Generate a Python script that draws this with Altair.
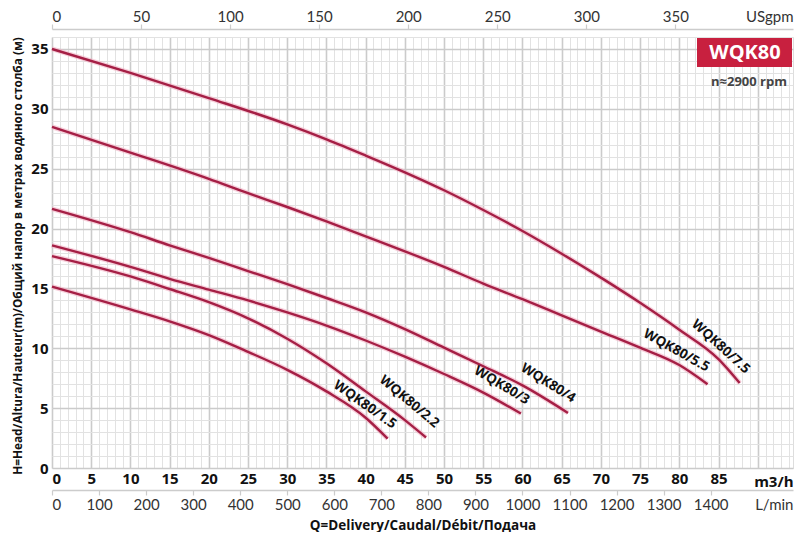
import altair as alt
import pandas as pd

# ---------------- data (m3/h, m) ----------------
models = ["WQK80/1.5", "WQK80/2.2", "WQK80/3", "WQK80/4", "WQK80/5.5", "WQK80/7.5"]
q_15 = [0, 10, 15, 20, 25, 30, 35, 40, 42.8]
h_15 = [15.15, 13.25, 12.25, 11.1, 9.7, 8.2, 6.4, 4.2, 2.45]
q_22 = [0, 10, 15, 20, 25, 30, 35, 40, 45, 47.7]
h_22 = [17.7, 16.0, 14.95, 13.85, 12.5, 10.8, 8.75, 6.4, 4.0, 2.55]
q_3 = [0, 10, 15, 20, 25, 30, 35, 40, 45, 50, 55, 59.8]
h_3 = [18.6, 16.8, 15.8, 14.9, 14.0, 13.0, 11.9, 10.65, 9.3, 7.85, 6.3, 4.55]
q_4 = [0, 10, 15, 20, 25, 30, 35, 40, 45, 50, 55, 60, 65.8]
h_4 = [21.65, 19.7, 18.6, 17.55, 16.45, 15.35, 14.2, 13.0, 11.6, 10.05, 8.5, 6.9, 4.6]
q_55 = [0, 10, 20, 25, 30, 35, 40, 45, 50, 55, 60, 65, 70, 75, 80, 83.6]
h_55 = [28.5, 26.35, 24.15, 22.95, 21.8, 20.6, 19.35, 18.1, 16.8, 15.4, 14.1, 12.75, 11.4, 10.05, 8.6, 7.0]
q_75 = [0, 10, 20, 30, 35, 40, 45, 50, 55, 60, 65, 70, 75, 80, 85, 87.7]
h_75 = [35.0, 33.0, 30.9, 28.7, 27.45, 26.1, 24.7, 23.2, 21.55, 19.8, 17.9, 15.9, 13.8, 11.55, 9.1, 7.1]

# curve label anchors (m3/h, m) and text angle
lab_q = [39.4, 45.0, 56.9, 62.8, 79.2, 84.7]
lab_h = [4.8, 5.1, 6.4, 6.6, 9.3, 9.7]
lab_ang = [35, 40, 31, 32, 29, 42]

# secondary axis ticks
usgpm_ticks = [0, 50, 100, 150, 200, 250, 300, 350]
lmin_ticks = [0, 100, 200, 300, 400, 500, 600, 700, 800, 900, 1000, 1100, 1200, 1300, 1400]
m3h_ticks = [0, 5, 10, 15, 20, 25, 30, 35, 40, 45, 50, 55, 60, 65, 70, 75, 80, 85, 90]
head_ticks = [0, 5, 10, 15, 20, 25, 30, 35]

# ---------------- frames ----------------
series = [(q_15, h_15), (q_22, h_22), (q_3, h_3), (q_4, h_4), (q_55, h_55), (q_75, h_75)]
rows = []
for m, (qs, hs) in zip(models, series):
    for q, h in zip(qs, hs):
        rows.append({"model": m, "q": q, "h": h})
df = pd.DataFrame(rows)
labels_df = pd.DataFrame({"model": models, "q": lab_q, "h": lab_h, "ang": lab_ang})
us_df = pd.DataFrame({"v": usgpm_ticks})
lm_df = pd.DataFrame({"v": lmin_ticks})
one = pd.DataFrame({"a": [1]})

W, H = 741, 431
XMAX = 94.5
BOLD = "Open Sans"
REG = "Lato"
CURVE = "#a51f45"

xs = alt.Scale(domain=[0, XMAX], nice=False, zero=False)
ys = alt.Scale(domain=[0, 36], nice=False, zero=False)

# minor grid (every 1 unit) + bottom title
minor = alt.Chart(df).mark_line(opacity=0).encode(
    x=alt.X("q:Q", scale=xs, axis=alt.Axis(
        orient="bottom", values=list(range(0, 95)), grid=True, gridColor="#e2e2e2",
        gridWidth=1, labels=False, ticks=False, domain=False,
        title="Q=Delivery/Caudal/Débit/Подача", titleFont=BOLD, titleFontSize=13.5,
        titleFontWeight="bold", titleColor="#111", titleX=W / 2, titleY=57,
        titleAlign="center", titleBaseline="middle")),
    y=alt.Y("h:Q", scale=ys, axis=alt.Axis(
        orient="left", values=list(range(0, 37)), grid=True, gridColor="#e2e2e2",
        gridWidth=1, labels=False, ticks=False, domain=False, title=None)),
    detail="model:N",
)

# major grid + m3/h axis + head axis
major = alt.Chart(df).mark_line(opacity=0).encode(
    x=alt.X("q:Q", scale=xs, axis=alt.Axis(
        orient="bottom", values=m3h_ticks, grid=True, gridColor="#cbcbcb", gridWidth=1.6,
        labelExpr="datum.value > 87 ? '' : datum.label",
        labelFont=BOLD, labelFontSize=15, labelFontWeight="bold", labelColor="#111",
        labelPadding=3, ticks=False, domain=False,
        title="m3/h", titleFont=BOLD, titleFontSize=15, titleFontWeight="bold",
        titleColor="#111", titleX=W, titleY=13, titleAlign="right",
        titleBaseline="middle")),
    y=alt.Y("h:Q", scale=ys, axis=alt.Axis(
        orient="left", values=head_ticks, grid=True, gridColor="#cbcbcb", gridWidth=1.6,
        labelFont=BOLD, labelFontSize=15, labelFontWeight="bold", labelColor="#111",
        labelPadding=4, ticks=False, domain=False,
        title="H=Head/Altura/Hauteur(m)/Общий напор в метрах водяного столба (м)",
        titleFont=BOLD, titleFontSize=11.8, titleFontWeight="bold", titleColor="#111",
        titleX=-35, titleY=H / 2 + 3, titleAlign="center", titleBaseline="middle",
        titleAngle=-90)),
    detail="model:N",
)

halo = alt.Chart(df).mark_line(color="#f2b3c4", strokeWidth=5, opacity=0.6,
                               interpolate="monotone").encode(
    x=alt.X("q:Q", scale=xs, axis=None),
    y=alt.Y("h:Q", scale=ys, axis=None),
    detail="model:N",
)
curves = alt.Chart(df).mark_line(color=CURVE, strokeWidth=2.4,
                                 interpolate="monotone").encode(
    x=alt.X("q:Q", scale=xs, axis=None),
    y=alt.Y("h:Q", scale=ys, axis=None),
    detail="model:N",
)

labels = alt.Chart(labels_df).mark_text(
    font=BOLD, fontSize=13.5, fontWeight="bold", color="#111",
    align="center", baseline="bottom", dy=0).encode(
    x=alt.X("q:Q", scale=xs, axis=None),
    y=alt.Y("h:Q", scale=ys, axis=None),
    angle=alt.Angle("ang:Q", scale=None),
    text="model:N",
)

# USgpm top axis
us_axis = alt.Chart(us_df).mark_point(opacity=0).encode(
    x=alt.X("v:Q", scale=alt.Scale(domain=[0, XMAX * 4.40287], nice=False, zero=False),
            axis=alt.Axis(orient="top", values=usgpm_ticks, offset=8, grid=False,
                          format="d",
                          domainColor="#cccccc", domainWidth=1.5, tickColor="#cccccc",
                          tickSize=5, tickWidth=1.2, labelFont=REG, labelFontSize=15,
                          labelColor="#333", labelPadding=0,
                          title="USgpm", titleFont=REG, titleFontSize=15,
                          titleFontWeight="normal", titleColor="#333", titleX=W,
                          titleY=-13, titleAlign="right", titleBaseline="middle")),
)

# L/min bottom axis
lm_axis = alt.Chart(lm_df).mark_point(opacity=0).encode(
    x=alt.X("v:Q", scale=alt.Scale(domain=[0, XMAX * 1000 / 60], nice=False, zero=False),
            axis=alt.Axis(orient="bottom", values=lmin_ticks, offset=22, grid=False,
                          format="d",
                          domainColor="#cccccc", domainWidth=1.5, tickColor="#cccccc",
                          tickSize=5, tickWidth=1.2, labelFont=REG, labelFontSize=15,
                          labelColor="#333", labelPadding=2,
                          title="L/min", titleFont=REG, titleFontSize=15,
                          titleFontWeight="normal", titleColor="#333", titleX=W,
                          titleY=14, titleAlign="right", titleBaseline="middle")),
)

# model badge
badge = alt.Chart(one).mark_rect(color="#c8203f").encode(
    x=alt.value(645), x2=alt.value(W - 1), y=alt.value(1), y2=alt.value(30))
badge_txt = alt.Chart(one).mark_text(
    text="WQK80", font=BOLD, fontSize=20, fontWeight="bold", color="white",
    align="center", baseline="middle").encode(x=alt.value(693), y=alt.value(16))
rpm_txt = alt.Chart(one).mark_text(
    text="n≈2900 rpm", font=BOLD, fontSize=13, fontWeight="bold", color="#444",
    align="right", baseline="middle").encode(x=alt.value(735), y=alt.value(45))

chart = alt.layer(
    minor, major, halo, curves, labels, us_axis, lm_axis, badge, badge_txt, rpm_txt
).resolve_scale(x="independent").resolve_axis(x="independent", y="independent").properties(
    width=W, height=H,
    autosize=alt.AutoSizeParams(type="none"),
    padding={"left": 44, "top": 29, "right": 1, "bottom": 64},
).configure_view(stroke="#1a1a1a", strokeWidth=2).configure(background="white")

chart.save("out.html", embed_options={"renderer": "svg", "actions": False})
